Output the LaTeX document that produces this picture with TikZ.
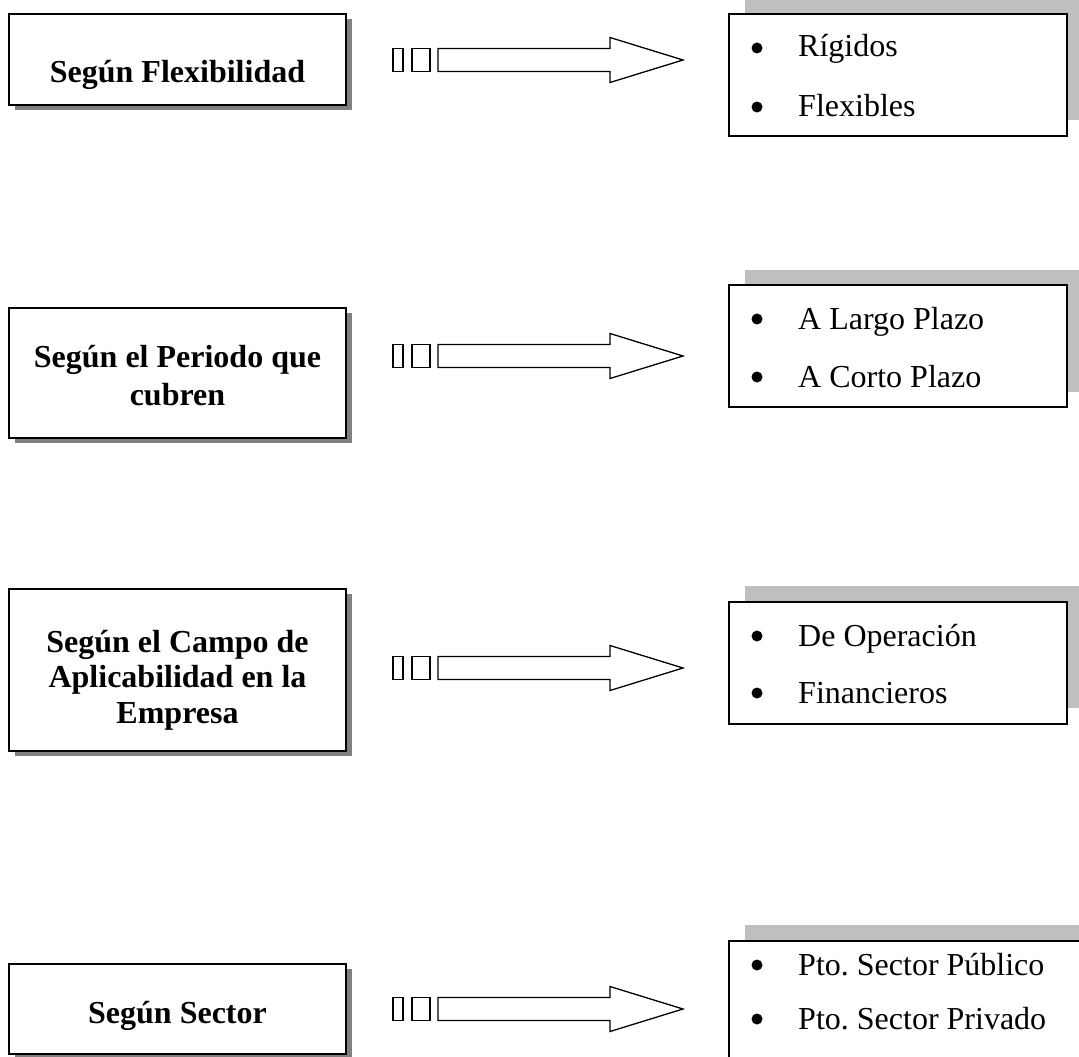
\documentclass[tikz,border=0pt]{standalone}
\usepackage{fontspec}
\setmainfont{Liberation Serif}
\frenchspacing
\begin{document}
\begin{tikzpicture}[x=1pt,y=-1pt,
  catbox/.style={draw=black, line width=1.6pt, fill=white},
  catshadow/.style={fill=black!50, draw=none},
  listbox/.style={draw=black, line width=1.6pt, fill=white},
  listshadow/.style={fill=black!25, draw=none},
  cattext/.style={font=\fontsize{32}{37}\selectfont\bfseries, align=center, inner sep=0pt},
  itemtext/.style={font=\fontsize{32}{37}\selectfont, anchor=base west, inner sep=0pt},
  bulletdot/.style={circle, fill=black, draw=none, minimum size=11pt, inner sep=0pt},
  arrowline/.style={draw=black, line width=1.3pt, fill=white, line join=miter}
]
\useasboundingbox (0,0) rectangle (1079,1057);
\begin{scope}
\clip (0,0) rectangle (1079,1057);

% ---------- left boxes ----------
\fill[catshadow] (15,19) rectangle (352,110);
\draw[catbox] (9,14) rectangle (346,105);
\node[cattext, anchor=base] (c1) at (177.5,83) {Según Flexibilidad};

\fill[catshadow] (15,313) rectangle (352,443);
\draw[catbox] (9,308) rectangle (346,438);
\node[cattext, font=\fontsize{32}{38}\selectfont\bfseries] (c2) at (177.5,378.4)
  {\strut Según el Periodo que\\\strut cubren};

\fill[catshadow] (15,594) rectangle (352,756);
\draw[catbox] (9,589) rectangle (346,751);
\node[cattext, font=\fontsize{32}{35.5}\selectfont\bfseries] (c3) at (177.5,680.4)
  {\strut Según el Campo de\\\strut Aplicabilidad en la\\\strut Empresa};

\fill[catshadow] (15,969) rectangle (352,1059);
\draw[catbox] (9,964) rectangle (346,1054);
\node[cattext, anchor=base] (c4) at (177.5,1023) {Según Sector};

% ---------- right boxes ----------
\fill[listshadow] (745,-2) rectangle (1083,120);
\draw[listbox] (729,14) rectangle (1067,136);
\node[bulletdot] (b11) at (757,48) {};
\node[itemtext] (i11) at (798,57) {Rígidos};
\node[bulletdot] (b12) at (757,107) {};
\node[itemtext] (i12) at (798,117) {Flexibles};

\fill[listshadow] (745,270) rectangle (1083,392);
\draw[listbox] (729,285) rectangle (1067,407);
\node[bulletdot] (b21) at (757,319) {};
\node[itemtext] (i21) at (798,329) {A Largo Plazo};
\node[bulletdot] (b22) at (757,377) {};
\node[itemtext] (i22) at (798,387) {A Corto Plazo};

\fill[listshadow] (745,586) rectangle (1083,708);
\draw[listbox] (729,602) rectangle (1067,724);
\node[bulletdot] (b31) at (757,636) {};
\node[itemtext] (i31) at (798,646) {De Operación};
\node[bulletdot] (b32) at (757,693) {};
\node[itemtext] (i32) at (798,703) {Financieros};

\fill[listshadow] (745,925) rectangle (1100,1047);
\draw[listbox] (729,941) rectangle (1100,1063);
\node[bulletdot] (b41) at (757,965) {};
\node[itemtext] (i41) at (798,975) {Pto. Sector Público};
\node[bulletdot] (b42) at (757,1019) {};
\node[itemtext] (i42) at (798,1029) {Pto. Sector Privado};

% ---------- block arrows ----------
\foreach \yy/\nm in {60/a1, 356/a2, 668/a3, 1009/a4}{
  \draw[arrowline] (393,\yy-11.5) rectangle (403,\yy+11.5);
  \draw[arrowline] (412,\yy-11.5) rectangle (430,\yy+11.5);
  \draw[arrowline] (438,\yy-11.5) -- (610,\yy-11.5) -- (610,\yy-22.5)
     -- (683,\yy) -- (610,\yy+22.5) -- (610,\yy+11.5) -- (438,\yy+11.5) -- cycle;
  \coordinate (\nm) at (683,\yy);
}
\end{scope}
\end{tikzpicture}
\end{document}
